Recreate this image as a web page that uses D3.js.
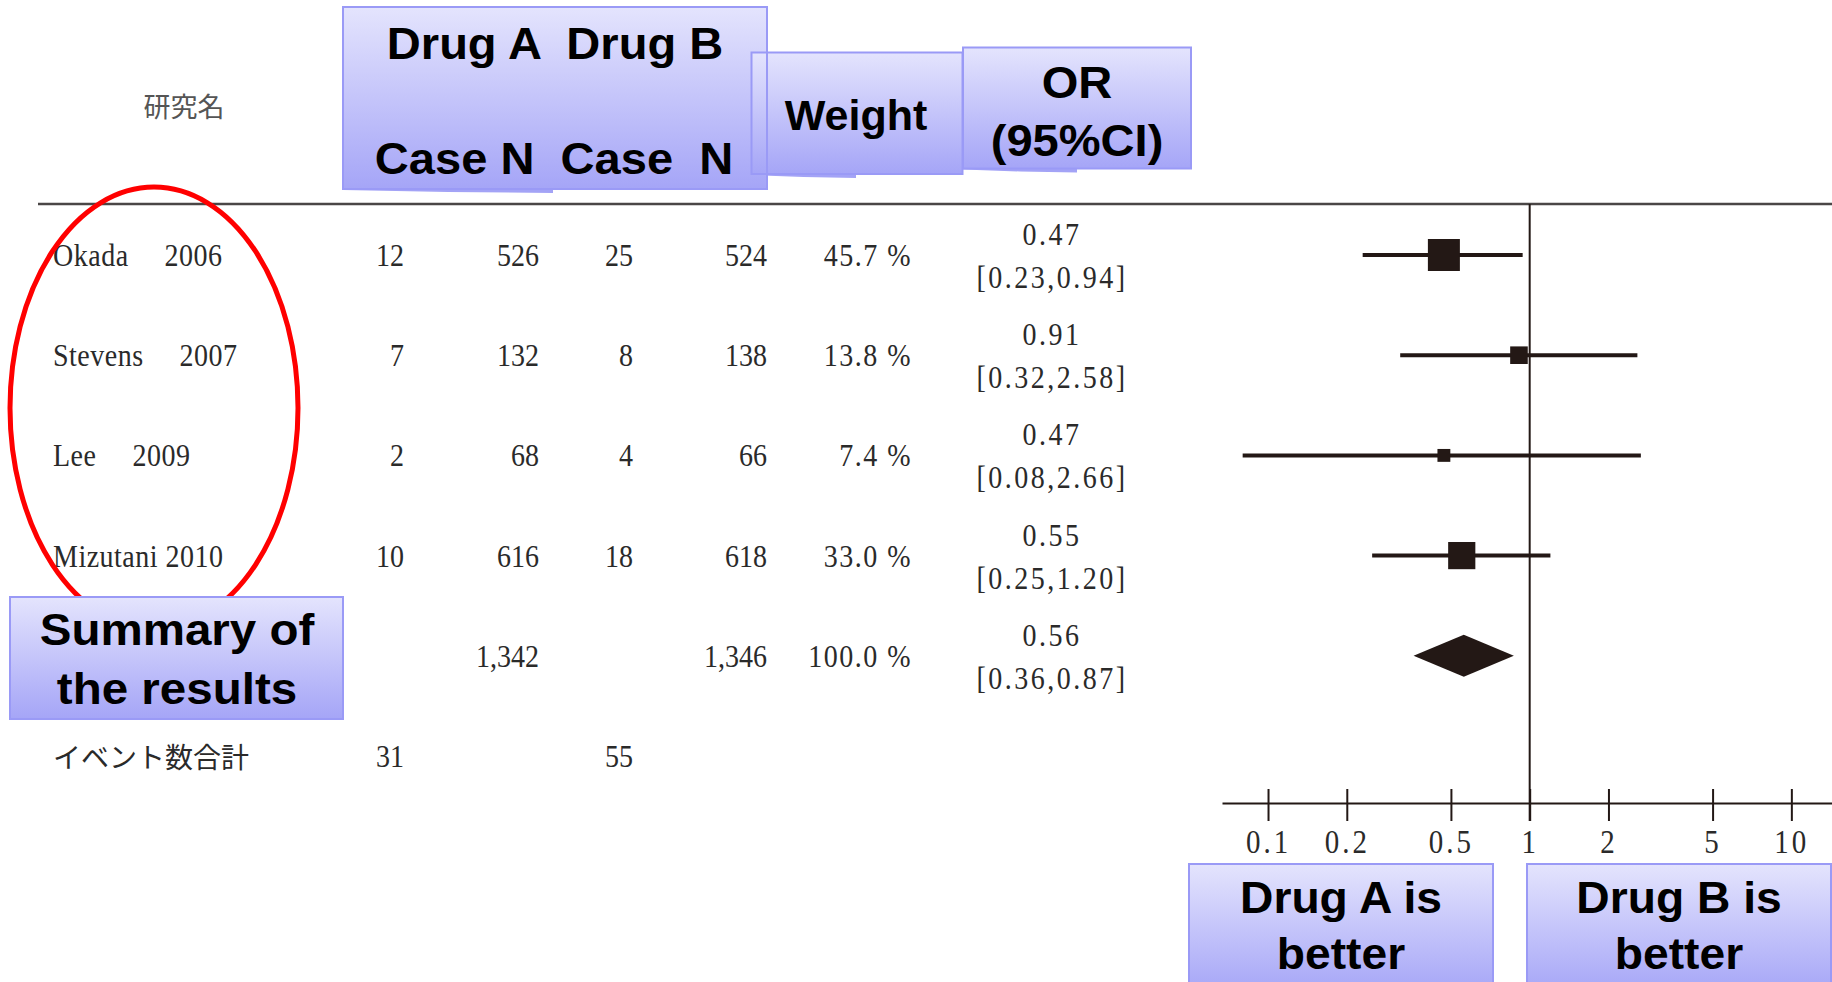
<!DOCTYPE html>
<html>
<head>
<meta charset="utf-8">
<script src="https://cdn.jsdelivr.net/npm/d3@7"></script>
<style>
  body { margin: 0; background: #fff; }
  svg text { white-space: pre; }
</style>
</head>
<body>
<div id="chart"></div>
<script>
// study rows
const studyLabels = ["Okada\u3000 2006", "Stevens\u3000 2007", "Lee\u3000 2009", "Mizutani 2010"];
const casesA = [12, 7, 2, 10];
const totalA = [526, 132, 68, 616];
const casesB = [25, 8, 4, 18];
const totalB = [524, 138, 66, 618];
const weights = [45.7, 13.8, 7.4, 33.0];
const oddsRatio = [0.47, 0.91, 0.47, 0.55];
const ciLow = [0.23, 0.32, 0.08, 0.25];
const ciHigh = [0.94, 2.58, 2.66, 1.20];

// pooled result
const pooledN = [1342, 1346];
const pooledWeight = 100.0;
const pooledOR = 0.56;
const pooledCI = [0.36, 0.87];
const eventTotals = [31, 55];

const axisTicks = [0.1, 0.2, 0.5, 1, 2, 5, 10];

const width = 1832, height = 982;
const ink = "#231815";
const serif = "'Liberation Serif', 'Times New Roman', 'Noto Sans CJK JP', serif";
const cjk = "'Noto Sans CJK JP', sans-serif";
const sans = "'Liberation Sans', Arial, sans-serif";
const tall = 1.14; // the table font is taller than it is wide

const svg = d3.select("#chart").append("svg")
  .attr("width", width)
  .attr("height", height);

const grad = svg.append("defs").append("linearGradient")
  .attr("id", "boxGrad")
  .attr("x1", 0).attr("y1", 0).attr("x2", 0).attr("y2", 1);
grad.append("stop").attr("offset", "0%").attr("stop-color", "#e4e4fd");
grad.append("stop").attr("offset", "100%").attr("stop-color", "#a5a5f7");

// scales
const x = d3.scaleLog().domain([0.0667, 14.3]).range([1222, 1832]);
const yRow = d3.scaleLinear().domain([0, 5]).range([255, 756]);
const boxSize = d3.scaleSqrt().domain([0, 45.7]).range([0, 32]);

const col = { name: 53, caseA: 404, nA: 539, caseB: 633, nB: 767, weight: 912, or: 1052 };

const fmtPct = (d) => d3.format(".1f")(d) + " %";
const fmt2 = d3.format(".2f");
const fmtN = d3.format(",");

// top rule
svg.append("line")
  .attr("x1", 38).attr("x2", width)
  .attr("y1", 204).attr("y2", 204)
  .attr("stroke", "#4a4646")
  .attr("stroke-width", 2.5);

// header
svg.append("text")
  .attr("x", 184).attr("y", 105)
  .attr("text-anchor", "middle")
  .attr("dominant-baseline", "central")
  .style("font-family", cjk)
  .style("font-size", "27px")
  .attr("fill", "#555")
  .text("研究名");

// table body
const table = svg.append("g")
  .style("font-family", serif)
  .style("font-size", "28px")
  .attr("fill", "#2a2a2a");

function cell(g, cx, cy, txt, anchor, spacing) {
  return g.append("text")
    .attr("transform", `translate(${cx}, ${cy}) scale(1, ${tall})`)
    .attr("text-anchor", anchor || "end")
    .style("letter-spacing", (spacing || 0) + "px")
    .text(txt);
}

studyLabels.forEach((label, i) => {
  const g = table.append("g").attr("transform", `translate(0, ${yRow(i)})`);
  cell(g, col.name, 11, label, "start", 0.5);
  cell(g, col.caseA, 11, casesA[i]);
  cell(g, col.nA, 11, fmtN(totalA[i]));
  cell(g, col.caseB, 11, casesB[i]);
  cell(g, col.nB, 11, fmtN(totalB[i]));
  cell(g, col.weight, 11, fmtPct(weights[i]), "end", 1.5);
  cell(g, col.or, -10, fmt2(oddsRatio[i]), "middle", 2.5);
  cell(g, col.or, 33, `[${fmt2(ciLow[i])},${fmt2(ciHigh[i])}]`, "middle", 2.5);
});

// pooled row
const pooled = table.append("g").attr("transform", `translate(0, ${yRow(4)})`);
cell(pooled, col.nA, 11, fmtN(pooledN[0]));
cell(pooled, col.nB, 11, fmtN(pooledN[1]));
cell(pooled, col.weight, 11, fmtPct(pooledWeight), "end", 1.5);
cell(pooled, col.or, -10, fmt2(pooledOR), "middle", 2.5);
cell(pooled, col.or, 33, `[${fmt2(pooledCI[0])},${fmt2(pooledCI[1])}]`, "middle", 2.5);

// event totals row
const events = table.append("g").attr("transform", `translate(0, ${yRow(5)})`);
events.append("text").attr("x", col.name).attr("y", 0)
  .attr("dominant-baseline", "central")
  .style("font-family", cjk).style("font-size", "28px")
  .text("イベント数合計");
cell(events, col.caseA, 11, eventTotals[0]);
cell(events, col.caseB, 11, eventTotals[1]);

// reference line at OR = 1
svg.append("line")
  .attr("x1", x(1)).attr("x2", x(1))
  .attr("y1", 204).attr("y2", 821)
  .attr("stroke", ink)
  .attr("stroke-width", 2);

// axis
const axisG = svg.append("g")
  .attr("transform", "translate(0, 803)")
  .call(d3.axisBottom(x).tickValues(axisTicks).tickSize(18).tickSizeOuter(0).tickFormat((d) => String(d)));
axisG.select(".domain").attr("stroke", ink).attr("stroke-width", 2);
axisG.selectAll(".tick line").attr("y1", -14).attr("y2", 18).attr("stroke", ink).attr("stroke-width", 2);
axisG.selectAll(".tick text")
  .attr("y", null).attr("dy", null)
  .attr("transform", `translate(0, 50) scale(1, ${tall})`)
  .attr("fill", "#2a2a2a")
  .style("font-family", serif)
  .style("font-size", "29px")
  .style("letter-spacing", "3px");

// study CIs and boxes
const rows = studyLabels.map((label, i) => ({ i, w: weights[i], or: oddsRatio[i], lo: ciLow[i], hi: ciHigh[i] }));
const marks = svg.append("g");
marks.selectAll(".ci")
  .data(rows)
  .enter()
  .append("line")
  .attr("class", "ci")
  .attr("x1", (d) => x(d.lo)).attr("x2", (d) => x(d.hi))
  .attr("y1", (d) => yRow(d.i)).attr("y2", (d) => yRow(d.i))
  .attr("stroke", ink)
  .attr("stroke-width", 4);

marks.selectAll(".sq")
  .data(rows)
  .enter()
  .append("rect")
  .attr("class", "sq")
  .attr("x", (d) => x(d.or) - boxSize(d.w) / 2)
  .attr("y", (d) => yRow(d.i) - boxSize(d.w) / 2)
  .attr("width", (d) => boxSize(d.w))
  .attr("height", (d) => boxSize(d.w))
  .attr("fill", ink);

// pooled diamond
const yP = yRow(4);
marks.append("path")
  .attr("d", `M${x(pooledCI[0])},${yP} L${x(pooledOR)},${yP - 21} L${x(pooledCI[1])},${yP} L${x(pooledOR)},${yP + 21} Z`)
  .attr("fill", ink);

// red ellipse round the study names
svg.append("ellipse")
  .attr("cx", 154).attr("cy", 408)
  .attr("rx", 144).attr("ry", 221)
  .attr("fill", "none")
  .attr("stroke", "#ff0000")
  .attr("stroke-width", 5);

// annotation boxes
const boxes = [
  { x: 343, y: 7, w: 424, h: 182, tail: 553, sx: 1.07, size: 44,
    lines: [{ t: "Drug A  Drug B", cx: 555, y: 59 }, { t: "Case N  Case  N", cx: 554, y: 174 }] },
  { x: 751.5, y: 52.5, w: 211, h: 121.5, tail: 856, sx: 1.0, size: 43,
    lines: [{ t: "Weight", cx: 856, y: 130 }] },
  { x: 963, y: 47.5, w: 228, h: 121, tail: 1077, sx: 1.07, size: 44,
    lines: [{ t: "OR", cx: 1077, y: 98 }, { t: "(95%CI)", cx: 1077, y: 156 }] },
  { x: 10, y: 597, w: 333, h: 122, sx: 1.08, size: 44,
    lines: [{ t: "Summary of", cx: 177, y: 645 }, { t: "the results", cx: 177, y: 704 }] },
  { x: 1189, y: 864, w: 304, h: 130, sx: 1.05, size: 44,
    lines: [{ t: "Drug A is", cx: 1341, y: 913 }, { t: "better", cx: 1341, y: 969 }] },
  { x: 1527, y: 864, w: 304, h: 130, sx: 1.05, size: 44,
    lines: [{ t: "Drug B is", cx: 1679, y: 913 }, { t: "better", cx: 1679, y: 969 }] }
];

const boxG = svg.append("g");
boxG.selectAll(".tail")
  .data(boxes.filter((b) => b.tail))
  .enter()
  .append("path")
  .attr("class", "tail")
  .attr("d", (b) => {
    const bt = b.y + b.h;
    const mid = b.x + (b.tail - b.x) * 0.5;
    return `M${b.x},${bt} L${b.tail},${bt} L${b.tail},${bt + 4} L${mid},${bt + 3} L${b.x},${bt + 1} Z`;
  })
  .attr("fill", "#a3a3f6");

boxG.selectAll(".bfill")
  .data(boxes)
  .enter()
  .append("rect")
  .attr("class", "bfill")
  .attr("x", (b) => b.x).attr("y", (b) => b.y)
  .attr("width", (b) => b.w).attr("height", (b) => b.h)
  .attr("fill", "url(#boxGrad)");

boxG.selectAll(".bline")
  .data(boxes)
  .enter()
  .append("rect")
  .attr("class", "bline")
  .attr("x", (b) => b.x).attr("y", (b) => b.y)
  .attr("width", (b) => b.w).attr("height", (b) => b.h)
  .attr("fill", "none")
  .attr("stroke", "#9a9af6")
  .attr("stroke-width", 2);

boxes.forEach((b) => {
  b.lines.forEach((ln) => {
    boxG.append("text")
      .attr("transform", `translate(${ln.cx}, ${ln.y}) scale(${b.sx}, 1)`)
      .attr("text-anchor", "middle")
      .style("font-family", sans)
      .style("font-weight", "bold")
      .style("font-size", b.size + "px")
      .attr("fill", "#000")
      .text(ln.t);
  });
});
</script>
</body>
</html>
